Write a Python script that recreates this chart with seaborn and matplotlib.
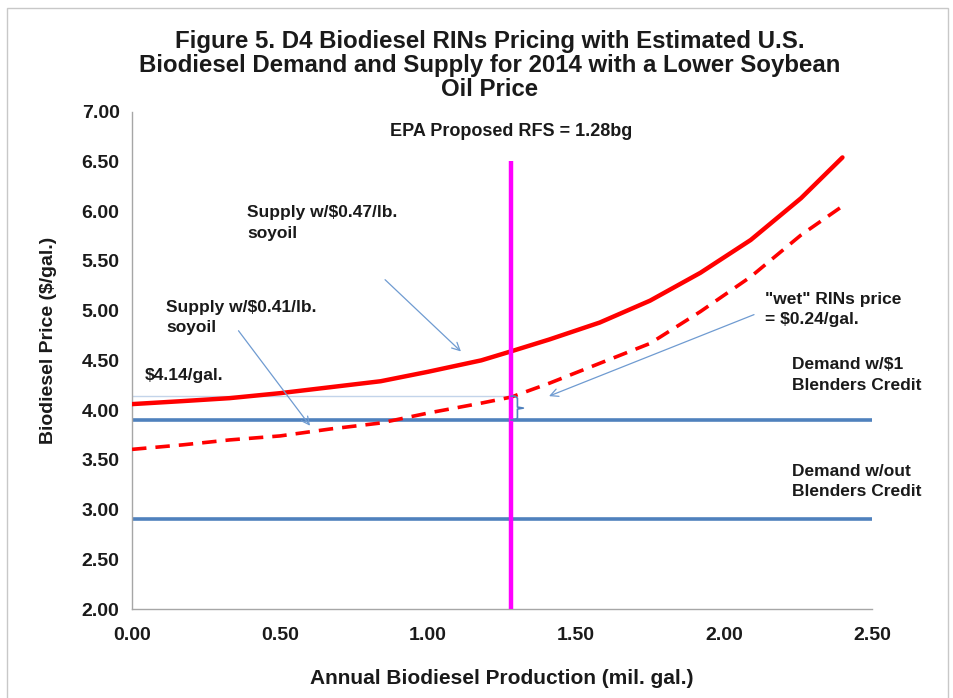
import matplotlib
matplotlib.use("Agg")
import matplotlib.pyplot as plt
import seaborn as sns
import pandas as pd
from matplotlib.patches import Rectangle

# Supply curves
production = [0.0, 0.17, 0.33, 0.5, 0.67, 0.84, 1.0, 1.18, 1.28, 1.41, 1.58,
              1.75, 1.92, 2.09, 2.26, 2.4]
supply_047 = [4.06, 4.09, 4.12, 4.17, 4.23, 4.29, 4.385, 4.50, 4.59, 4.71, 4.88,
              5.10, 5.38, 5.71, 6.13, 6.54]
supply_041 = [3.605, 3.65, 3.70, 3.74, 3.81, 3.87, 3.97, 4.07, 4.13, 4.27, 4.47,
              4.67, 4.99, 5.34, 5.76, 6.05]

# Demand levels and RFS mandate
demand_with_credit = 3.90
demand_without_credit = 2.90
rfs_volume = 1.28
rfs_line_top = 6.50
price_at_rfs = 4.14

df = pd.DataFrame({"production": production,
                   "supply_047": supply_047,
                   "supply_041": supply_041})

sns.set_style("white")
plt.rcParams['font.family'] = ['Liberation Sans', 'DejaVu Sans']
plt.rcParams['font.weight'] = 'bold'

fig = plt.figure(figsize=(9.54, 6.98), dpi=100)
ax = fig.add_axes([0.1384, 0.1275, 0.7757, 0.7125])

red = '#ff0000'
blue = '#4f81bd'
arrow_blue = '#6f9bd1'
txt = '#1a1a1a'

# demand lines
ax.axhline(demand_with_credit, color=blue, lw=2.6, zorder=2)
ax.axhline(demand_without_credit, color=blue, lw=2.6, zorder=2)

# thin line marking the price at the RFS volume
ax.plot([0, rfs_volume], [price_at_rfs, price_at_rfs], color='#c3d4ea', lw=1.0, zorder=2)

# supply curves
sns.lineplot(data=df, x="production", y="supply_047", ax=ax, color=red, lw=3.2,
             zorder=3, solid_joinstyle='round', solid_capstyle='round')
sns.lineplot(data=df, x="production", y="supply_041", ax=ax, color=red, lw=2.6,
             zorder=3, linestyle=(0, (4, 2.5)))

# RFS vertical line
ax.vlines(rfs_volume, 2.0, rfs_line_top, color='#ff00ff', lw=3.2, zorder=4)

# brace showing the RIN value
bx = rfs_volume + 0.022
mid = (price_at_rfs + demand_with_credit) / 2
ax.plot([rfs_volume, bx - 0.008, bx, bx, bx + 0.02, bx, bx, bx - 0.008, rfs_volume],
        [price_at_rfs, price_at_rfs, price_at_rfs - 0.02, mid + 0.01, mid,
         mid - 0.01, demand_with_credit + 0.02, demand_with_credit, demand_with_credit],
        color=blue, lw=1.2, zorder=5)

# text
lab = dict(fontsize=12.5, fontweight='bold', color=txt, va='top', ha='left',
           linespacing=1.45)
ax.text(rfs_volume, 6.80, 'EPA Proposed RFS = 1.28bg', ha='center', va='center',
        fontsize=13, fontweight='bold', color=txt)
ax.text(0.39, 6.06, 'Supply w/$0.47/lb.\nsoyoil', **lab)
ax.text(0.115, 5.11, 'Supply w/$0.41/lb.\nsoyoil', **lab)
ax.text(0.044, 4.42, '$4.14/gal.', **lab)
ax.text(2.14, 5.19, '"wet" RINs price\n= $0.24/gal.', **lab)
ax.text(2.23, 4.53, 'Demand w/$1\nBlenders Credit', **lab)
ax.text(2.23, 3.46, 'Demand w/out\nBlenders Credit', **lab)

arrow = dict(arrowstyle='->', color=arrow_blue, lw=0.9, mutation_scale=14)
ax.annotate('', xy=(1.118, 4.57), xytext=(0.848, 5.33), arrowprops=arrow)
ax.annotate('', xy=(0.607, 3.82), xytext=(0.354, 4.82), arrowprops=arrow)
ax.annotate('', xy=(1.40, 4.13), xytext=(2.11, 4.97), arrowprops=arrow)

# axes styling, Excel look
ax.set_xlim(0, 2.5)
ax.set_ylim(2.0, 7.0)
ax.set_xticks([0, 0.5, 1.0, 1.5, 2.0, 2.5])
ax.set_yticks([2.0, 2.5, 3.0, 3.5, 4.0, 4.5, 5.0, 5.5, 6.0, 6.5, 7.0])
ax.xaxis.set_major_formatter(matplotlib.ticker.FormatStrFormatter('%.2f'))
ax.yaxis.set_major_formatter(matplotlib.ticker.FormatStrFormatter('%.2f'))
for s in ['top', 'right']:
    ax.spines[s].set_visible(False)
for s in ['left', 'bottom']:
    ax.spines[s].set_color('#a6a6a6')
    ax.spines[s].set_linewidth(1.0)
ax.tick_params(axis='both', direction='out', length=5, width=1, color='#a6a6a6',
               labelsize=14, labelcolor=txt)
ax.tick_params(axis='x', pad=8)
ax.tick_params(axis='y', pad=4)
for t in ax.get_xticklabels() + ax.get_yticklabels():
    t.set_fontweight('bold')

ax.set_xlabel('Annual Biodiesel Production (mil. gal.)', fontsize=15, fontweight='bold',
              color=txt, labelpad=18)
ax.set_ylabel('Biodiesel Price ($/gal.)', fontsize=14, fontweight='bold', color=txt)
ax.yaxis.set_label_coords(-0.102, 0.54)

fig.suptitle('Figure 5. D4 Biodiesel RINs Pricing with Estimated U.S.\n'
             'Biodiesel Demand and Supply for 2014 with a Lower Soybean\nOil Price',
             x=0.513, y=0.957, fontsize=17.3, fontweight='bold', color=txt,
             linespacing=1.05)

# outer chart border
fig.patches.append(Rectangle((0.007, -0.01), 0.987, 0.998, transform=fig.transFigure,
                             fill=False, edgecolor='#c8c8c8', lw=1.0))

fig.savefig('out.png', dpi=100)
